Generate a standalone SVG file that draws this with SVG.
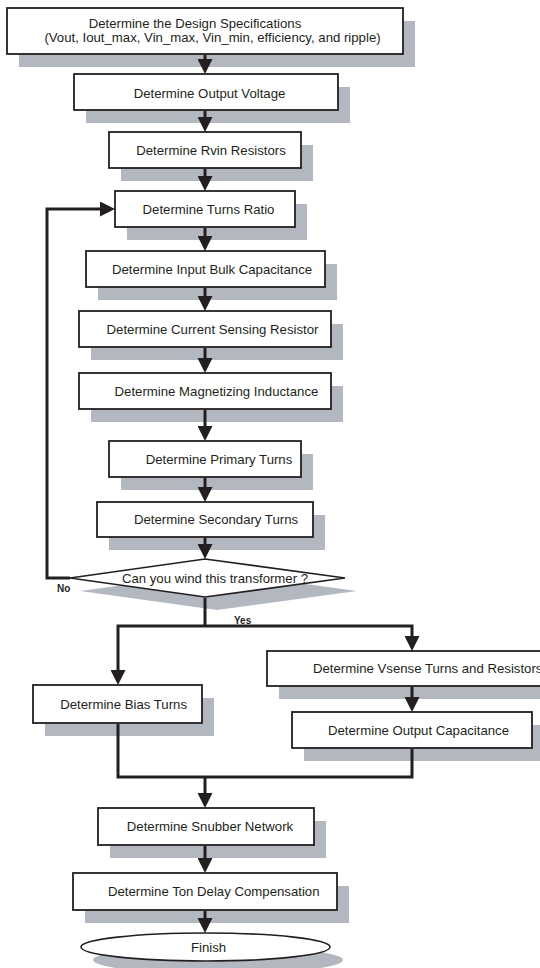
<svg xmlns="http://www.w3.org/2000/svg" width="540" height="968" viewBox="0 0 540 968">
<defs>
<marker id="ah" viewBox="0 0 15 15" refX="5" refY="7.5" markerWidth="15" markerHeight="15" markerUnits="userSpaceOnUse" orient="auto">
<path d="M0,0 L15,7.5 L0,15 z" fill="#231f20"/>
</marker>
</defs>
<style>
.sh{fill:#b3b8c0;stroke:none}
.bx{fill:#ffffff;stroke:#231f20;stroke-width:1.8}
.t{font-family:"Liberation Sans",Arial,sans-serif;font-size:13.2px;fill:#231f20;text-anchor:middle}
.s{font-family:"Liberation Sans",Arial,sans-serif;font-size:10px;font-weight:bold;fill:#231f20}
.c{fill:none;stroke:#231f20;stroke-width:3;stroke-linejoin:miter}
.a{marker-end:url(#ah)}
</style>
<rect x="0" y="0" width="540" height="968" fill="#ffffff"/>

<g id="n1">
<rect class="sh" x="19" y="21" width="396" height="46"/>
<rect class="bx" x="7" y="8" width="396" height="46"/>
<text class="t" x="195" y="27.5">Determine the Design Specifications</text>
<text class="t" x="212.5" y="41.5">(Vout, Iout_max, Vin_max, Vin_min, efficiency, and ripple)</text>
</g>
<g id="n2">
<rect class="sh" x="86" y="87" width="264" height="36"/>
<rect class="bx" x="74" y="74" width="264" height="36"/>
<text class="t" x="209.5" y="97.5">Determine Output Voltage</text>
</g>
<g id="n3">
<rect class="sh" x="121" y="145" width="192" height="36"/>
<rect class="bx" x="109" y="132" width="192" height="36"/>
<text class="t" x="211" y="154.6">Determine Rvin Resistors</text>
</g>
<g id="n4">
<rect class="sh" x="127" y="204" width="180" height="36"/>
<rect class="bx" x="115" y="191" width="180" height="36"/>
<text class="t" x="208.5" y="213.6">Determine Turns Ratio</text>
</g>
<g id="n5">
<rect class="sh" x="98" y="264" width="239" height="36"/>
<rect class="bx" x="86" y="251" width="239" height="36"/>
<text class="t" x="212" y="273.6">Determine Input Bulk Capacitance</text>
</g>
<g id="n6">
<rect class="sh" x="91" y="324" width="252" height="36"/>
<rect class="bx" x="79" y="311" width="252" height="36"/>
<text class="t" x="212.5" y="333.6">Determine Current Sensing Resistor</text>
</g>
<g id="n7">
<rect class="sh" x="91" y="386" width="252" height="36"/>
<rect class="bx" x="79" y="373" width="252" height="36"/>
<text class="t" x="216.5" y="395.6">Determine Magnetizing Inductance</text>
</g>
<g id="n8">
<rect class="sh" x="121" y="454" width="192" height="36"/>
<rect class="bx" x="109" y="441" width="192" height="36"/>
<text class="t" x="219" y="463.6">Determine Primary Turns</text>
</g>
<g id="n9">
<rect class="sh" x="109" y="515" width="216" height="35"/>
<rect class="bx" x="97" y="502" width="216" height="35"/>
<text class="t" x="216" y="524">Determine Secondary Turns</text>
</g>
<g id="decision">
<polygon class="sh" points="80,591 217,572 357,591 217,610"/>
<polygon class="bx" points="70,578 205,559 345,578 205,597" style="stroke-width:1.6"/>
<text class="t" x="215" y="582.5">Can you wind this transformer ?</text>
<text class="s" x="57" y="591.5">No</text>
<text class="s" x="234" y="623.5">Yes</text>
</g>
<g id="n10">
<rect class="sh" x="45" y="698" width="169" height="38"/>
<rect class="bx" x="33" y="685" width="169" height="38"/>
<text class="t" x="123.6" y="708.6">Determine Bias Turns</text>
</g>
<g id="n11">
<rect class="sh" x="279" y="664" width="290" height="35"/>
<rect class="bx" x="267" y="651" width="290" height="35"/>
<text class="t" x="313" y="673.2" style="text-anchor:start">Determine Vsense Turns and Resistors</text>
</g>
<g id="n12">
<rect class="sh" x="304" y="725" width="240" height="36"/>
<rect class="bx" x="292" y="712" width="240" height="36"/>
<text class="t" x="418.5" y="734.6">Determine Output Capacitance</text>
</g>
<g id="n13">
<rect class="sh" x="110" y="821" width="216" height="37"/>
<rect class="bx" x="98" y="808" width="216" height="37"/>
<text class="t" x="210" y="831.2">Determine Snubber Network</text>
</g>
<g id="n14">
<rect class="sh" x="85" y="886" width="264" height="37"/>
<rect class="bx" x="73" y="873" width="264" height="37"/>
<text class="t" x="213.7" y="896.2">Determine Ton Delay Compensation</text>
</g>
<g id="finish">
<ellipse class="sh" cx="218" cy="960" rx="125" ry="14"/>
<ellipse class="bx" cx="205.5" cy="947" rx="124.5" ry="14" style="stroke-width:1.6"/>
<text class="t" x="208.5" y="951.6">Finish</text>
</g>

<g id="connectors">
<path class="c a" d="M205,55 V64"/>
<path class="c a" d="M205,111 V122"/>
<path class="c a" d="M205,169 V181"/>
<path class="c a" d="M205,228 V241"/>
<path class="c a" d="M205,288 V301"/>
<path class="c a" d="M205,348 V363"/>
<path class="c a" d="M205,410 V431"/>
<path class="c a" d="M205,478 V492"/>
<path class="c a" d="M205,538 V549"/>
<path class="c a" d="M70,578 H47 V209 H105"/>
<path class="c" d="M205,598 V626"/>
<path class="c a" d="M205,626 H118 V675"/>
<path class="c a" d="M205,626 H412 V641"/>
<path class="c a" d="M412,687 V702"/>
<path class="c" d="M118,724 V777 H412 V749"/>
<path class="c a" d="M205,777 V798"/>
<path class="c a" d="M205,846 V863"/>
<path class="c a" d="M205,911 V923"/>
</g>
</svg>
